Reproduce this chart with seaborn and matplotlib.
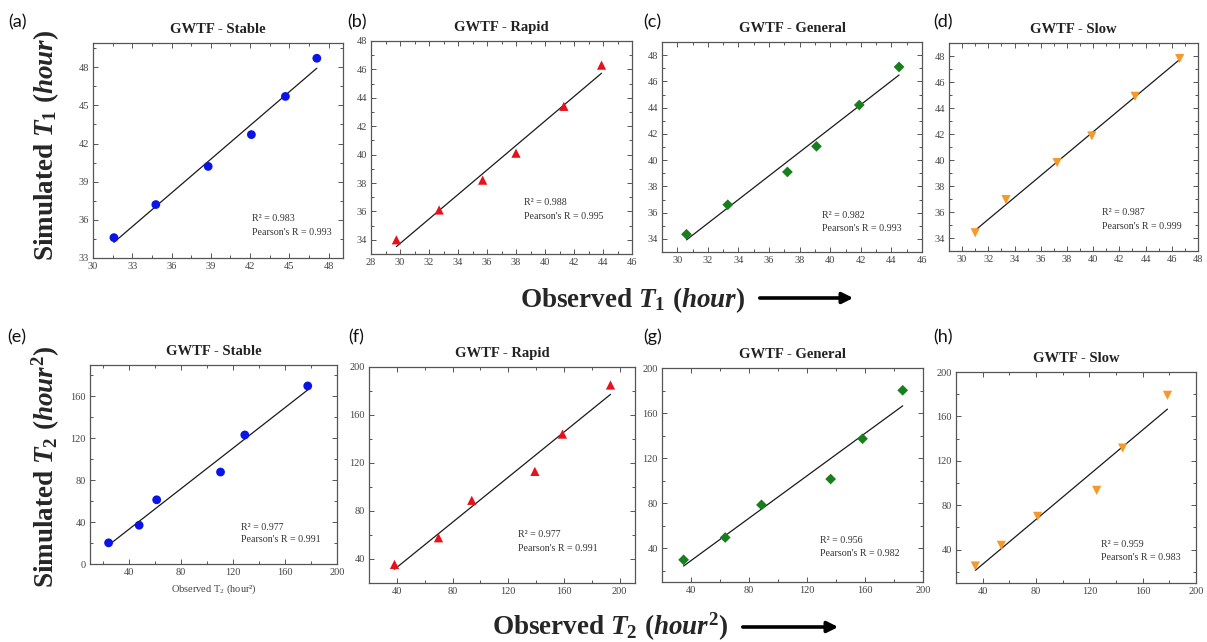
import numpy as np
import pandas as pd
import matplotlib
matplotlib.use("Agg")
import matplotlib.pyplot as plt
import seaborn as sns
from matplotlib.ticker import MultipleLocator
from matplotlib.patches import FancyArrowPatch

sns.set_theme(style="white")
plt.rcParams["font.family"] = ["Liberation Serif", "DejaVu Serif"]
plt.rcParams["mathtext.fontset"] = "custom"
plt.rcParams["mathtext.it"] = "Liberation Serif:italic:bold"
plt.rcParams["mathtext.rm"] = "Liberation Serif:bold"
plt.rcParams["mathtext.bf"] = "Liberation Serif:bold"
plt.rcParams["mathtext.sf"] = "Liberation Serif"

# ---------------- data ----------------
# T1 (hour)
stable_t1_obs = [31.6, 34.8, 38.8, 42.1, 44.7, 47.1]
stable_t1_sim = [34.6, 37.2, 40.2, 42.7, 45.7, 48.7]
rapid_t1_obs = [29.75, 32.7, 35.7, 38.0, 41.3, 43.9]
rapid_t1_sim = [34.0, 36.1, 38.2, 40.1, 43.4, 46.3]
general_t1_obs = [30.6, 33.3, 37.2, 39.1, 41.9, 44.5]
general_t1_sim = [34.35, 36.6, 39.1, 41.05, 44.2, 47.1]
slow_t1_obs = [31.0, 33.35, 37.25, 39.9, 43.2, 46.6]
slow_t1_sim = [34.4, 36.95, 39.8, 41.85, 44.9, 47.8]
# T2 (hour^2)
stable_t2_obs = [24.3, 47.8, 61.3, 110.4, 129.1, 177.5]
stable_t2_sim = [20.2, 37.0, 61.3, 87.8, 123.2, 170.0]
rapid_t2_obs = [38.3, 69.9, 93.8, 139.1, 158.9, 193.4]
rapid_t2_sim = [35.5, 57.7, 88.9, 113.0, 144.1, 185.0]
general_t2_obs = [34.9, 63.6, 88.6, 136.3, 158.3, 186.0]
general_t2_sim = [29.7, 49.5, 78.5, 101.4, 137.2, 180.2]
slow_t2_obs = [34.5, 54.0, 81.2, 125.5, 145.0, 178.6]
slow_t2_sim = [25.3, 43.9, 70.0, 93.4, 131.5, 179.0]

titles = ["GWTF - Stable", "GWTF - Rapid", "GWTF - General", "GWTF - Slow"] * 2
panel_tags = ["(a)", "(b)", "(c)", "(d)", "(e)", "(f)", "(g)", "(h)"]
r2_values = ["0.983", "0.988", "0.982", "0.987", "0.977", "0.977", "0.956", "0.959"]
pearson_values = ["0.993", "0.995", "0.993", "0.999", "0.991", "0.991", "0.982", "0.983"]

obs_sets = [stable_t1_obs, rapid_t1_obs, general_t1_obs, slow_t1_obs,
            stable_t2_obs, rapid_t2_obs, general_t2_obs, slow_t2_obs]
sim_sets = [stable_t1_sim, rapid_t1_sim, general_t1_sim, slow_t1_sim,
            stable_t2_sim, rapid_t2_sim, general_t2_sim, slow_t2_sim]

# ---------------- style / layout ----------------
W, H = 1207, 642
colors = ["#0a14e6", "#e8101a", "#17801c", "#f59a2a"] * 2
markers = ["o", "^", "D", "v"] * 2
msizes = [40, 44, 30, 44] * 2

# axes boxes in pixels: left, right, top, bottom
boxes_px = [
    (93, 343, 43, 258), (371, 632, 41, 254), (662, 922, 42, 252), (949, 1198, 43, 251),
    (90, 337, 365, 564), (369, 635, 367, 583), (662, 923, 368, 582), (956, 1196, 372, 583),
]
xlims = [(30, 49.1), (28, 46), (29, 46), (29, 48), (10, 200), (20, 211), (20, 200), (20, 200)]
ylims = [(33, 49.9), (33, 48), (33, 49), (33, 49), (0, 190), (20, 200), (10, 200), (10, 200)]
xmaj = [3, 2, 2, 2, 40, 40, 40, 40]
ymaj = [3, 2, 2, 2, 40, 40, 40, 40]
xticks_start = [30, 28, 30, 30, 40, 40, 40, 40]
yticks_start = [33, 34, 34, 34, 0, 40, 40, 40]
ann_pos = [(0.634, 0.186, 0.12), (0.587, 0.24, 0.178), (0.614, 0.172, 0.114), (0.615, 0.183, 0.12),
           (0.611, 0.184, 0.122), (0.561, 0.226, 0.161), (0.607, 0.195, 0.133), (0.603, 0.184, 0.121)]
tag_pos_px = [(8, 22), (347, 22), (643, 22), (933, 22), (7, 337), (348, 337), (643, 337), (933, 337)]

fig = plt.figure(figsize=(W / 100, H / 100), dpi=100)
fig.patch.set_facecolor("white")

for i in range(8):
    l, r, t, b = boxes_px[i]
    ax = fig.add_axes([l / W, 1 - b / H, (r - l) / W, (b - t) / H])
    sns.regplot(x=np.array(obs_sets[i]), y=np.array(sim_sets[i]), ax=ax, ci=None,
                marker=markers[i], color=colors[i],
                scatter_kws=dict(s=msizes[i], edgecolor="none", alpha=1, zorder=3),
                line_kws=dict(color="#1a1a1a", lw=0.9, zorder=2))
    ax.set_xlim(*xlims[i])
    ax.set_ylim(*ylims[i])
    xt = np.arange(xticks_start[i], xlims[i][1] + 1e-6, xmaj[i])
    yt = np.arange(yticks_start[i], ylims[i][1] + 1e-6, ymaj[i])
    ax.set_xticks(xt)
    ax.set_yticks(yt)
    ax.set_xticklabels([f"{v:g}" for v in xt])
    ax.set_yticklabels([f"{v:g}" for v in yt])
    ax.xaxis.set_minor_locator(MultipleLocator(xmaj[i] / 2))
    ax.yaxis.set_minor_locator(MultipleLocator(ymaj[i] / 2))
    ax.tick_params(which="both", direction="in", top=True, right=True,
                   bottom=True, left=True, color="#555555", width=0.7)
    ax.tick_params(which="major", length=3.5, labelsize=7.5, labelcolor="#444444", pad=3)
    ax.tick_params(which="minor", length=2)
    for s in ax.spines.values():
        s.set_color("#555555")
        s.set_linewidth(0.9)
        s.set_visible(True)
    ax.set_xlabel("")
    ax.set_ylabel("")
    ax.set_title(titles[i], fontsize=10.5, fontweight="bold", color="#222222", pad=7)
    ax.set_facecolor("white")
    ax.grid(False)
    px, py1, py2 = ann_pos[i]
    ax.text(px, py1, f"R\u00b2 = {r2_values[i]}", transform=ax.transAxes,
            fontsize=7.2, color="#333333", va="center", ha="left")
    ax.text(px, py2, f"Pearson's R = {pearson_values[i]}", transform=ax.transAxes,
            fontsize=7.2, color="#333333", va="center", ha="left")
    if i == 4:
        ax.set_xlabel(r"Observed $\mathsf{T_2}$ (hour²)", fontsize=7.5, color="#444444", labelpad=4)
    tx, ty = tag_pos_px[i]
    fig.text(tx / W, 1 - ty / H, panel_tags[i], fontsize=13, family=["Lato", "DejaVu Sans"],
             color="#111111", ha="left", va="center")

# big axis labels
fig.text(46 / W, 1 - 145 / H, r"Simulated $T_1\ (hour)$", rotation=90, ha="center", va="center",
         fontsize=19.5, fontweight="bold")
fig.text(46 / W, 1 - 467 / H, r"Simulated $T_2\ (hour^2)$", rotation=90, ha="center", va="center",
         fontsize=19.5, fontweight="bold")
fig.text(633 / W, 1 - 300 / H, r"Observed $T_1\ (hour)$", ha="center", va="center",
         fontsize=19.5, fontweight="bold")
fig.text(610 / W, 1 - 627 / H, r"Observed $T_2\ (hour^2)$", ha="center", va="center",
         fontsize=19.5, fontweight="bold")

for (x0, x1, y) in [(757, 856, 298), (740, 841, 627)]:
    arr = FancyArrowPatch((x0 / W, 1 - y / H), (x1 / W, 1 - y / H), transform=fig.transFigure,
                          arrowstyle="-|>", mutation_scale=16, lw=2.6, color="black")
    fig.add_artist(arr)

fig.savefig("out.png", dpi=100, facecolor="white")
